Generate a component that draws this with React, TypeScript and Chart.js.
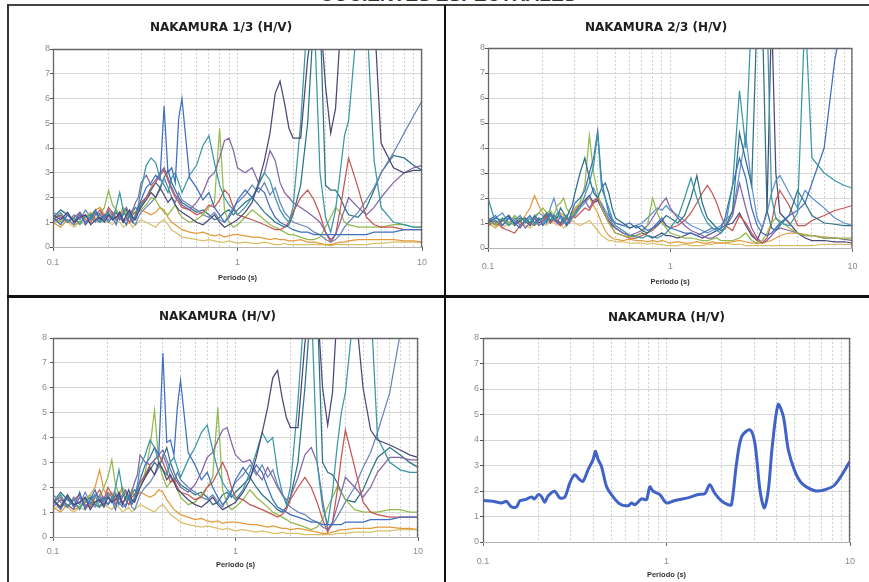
import React, { useEffect, useRef } from 'react';
import { Chart, registerables } from 'chart.js';

Chart.register(...registerables);

// ---------- shared axes ----------
const PERIODS = [
  0.10, 0.11, 0.12, 0.13, 0.14, 0.15, 0.16, 0.17, 0.18, 0.19,
  0.20, 0.21, 0.22, 0.23, 0.24, 0.25, 0.26, 0.27, 0.28, 0.29,
  0.30, 0.32, 0.34, 0.36, 0.38, 0.40, 0.42, 0.44, 0.46, 0.48,
  0.50, 0.55, 0.60, 0.65, 0.70, 0.75, 0.80, 0.85, 0.90, 0.95,
  1.0, 1.1, 1.2, 1.3, 1.4, 1.5, 1.6, 1.7, 1.8, 1.9,
  2.0, 2.2, 2.4, 2.6, 2.8, 3.0, 3.2, 3.4, 3.6, 3.8,
  4.0, 4.5, 5.0, 5.5, 6.0, 7.0, 8.0, 9.0, 10,
];
const X_GRID_TICKS = [0.1, 0.2, 0.3, 0.4, 0.5, 0.6, 0.7, 0.8, 0.9, 1, 2, 3, 4, 5, 6, 7, 8, 9, 10];
const X_LABELED = [0.1, 1, 10];
const X_LABEL_TEXT = ['0.1', '1', '10'];
const Y_MIN = 0;
const Y_MAX = 8;
const X_TITLE = 'Periodo (s)';
const PAGE_TITLE = 'COCIENTES ESPECTRALES';

// ---------- panel 1 : NAKAMURA 1/3 (H/V) ----------
const P1_DKPURPLE = [
  1.3, 1.1, 1.4, 1.0, 1.2, 1.3, 0.9, 1.1, 1.2, 1.0,
  1.3, 1.1, 1.2, 1.4, 1.0, 1.3, 1.5, 1.2, 1.1, 1.4,
  1.6, 1.9, 2.2, 2.0, 2.4, 2.1, 1.8, 2.0, 1.7, 1.5,
  1.4, 1.2, 1.0, 0.9, 1.1, 1.3, 1.0, 0.8, 0.9, 1.0,
  1.1, 1.4, 1.8, 2.6, 3.5, 4.6, 6.2, 6.7, 5.8, 4.8,
  4.4, 4.4, 7.6, 9.5, 9.5, 6.5, 4.6, 5.6, 8.6, 9.5,
  9.5, 9.5, 9.5, 9.5, 4.2, 3.2, 3.0, 3.1, 3.1,
];
const P1_BLUE = [
  1.2, 0.9, 1.3, 1.0, 1.4, 0.9, 1.2, 1.5, 1.1, 1.3,
  1.0, 1.2, 0.9, 1.4, 1.1, 0.9, 1.3, 1.0, 1.2, 1.6,
  1.9, 2.4, 2.6, 2.9, 2.7, 5.7, 3.0, 3.2, 2.6, 5.2,
  6.0, 2.8, 2.4, 1.9, 2.2, 1.6, 1.3, 1.0, 1.2, 1.5,
  1.9, 2.3, 2.0, 2.4, 2.2, 1.6, 1.2, 1.0, 0.9, 0.8,
  0.7, 0.6, 0.6, 0.5, 0.5, 0.5, 0.5, 0.5, 0.5, 0.5,
  0.5, 0.5, 0.5, 0.6, 0.6, 0.6, 0.7, 0.7, 0.7,
];
const P1_TEAL = [
  1.1, 1.4, 1.0, 1.2, 0.9, 1.3, 1.1, 1.4, 1.0, 1.2,
  1.4, 1.1, 1.6, 2.2, 1.5, 1.2, 1.4, 1.1, 1.3, 1.7,
  2.3, 3.3, 3.6, 3.4, 2.8, 2.5, 2.2, 2.8, 3.0, 2.6,
  2.2, 2.9, 3.3, 4.1, 4.5, 3.4, 2.5, 2.0, 1.7, 1.5,
  1.3, 1.6, 2.0, 2.5, 3.0, 2.7, 2.0, 1.5, 1.2, 1.0,
  1.6, 5.0, 9.5, 9.5, 3.0, 1.2, 0.6, 1.5, 3.0, 4.5,
  5.1, 9.5, 9.5, 3.5, 1.6, 1.0, 0.9, 0.8, 0.8,
];
const P1_PURPLE = [
  1.0, 1.2, 1.1, 0.9, 1.3, 1.0, 1.2, 1.4, 1.3, 1.1,
  1.5, 1.3, 1.1, 1.2, 1.4, 1.6, 1.3, 1.5, 1.8, 2.0,
  2.6, 2.9, 2.5, 2.7, 3.0, 3.2, 2.8, 2.4, 2.1, 1.9,
  1.7, 1.5, 1.8, 2.2, 2.8, 3.0, 3.6, 4.3, 4.4, 3.9,
  3.2, 3.0, 3.2, 2.6, 3.0, 3.9, 3.5, 2.6, 2.2, 2.0,
  1.8, 1.6, 1.4, 1.2, 1.0, 0.6, 0.3, 0.5, 1.0, 1.5,
  2.0, 1.6, 1.3, 1.6, 2.0, 2.6, 3.0, 3.2, 3.3,
];
const P1_RED = [
  1.1, 1.3, 1.0, 1.2, 1.4, 1.1, 1.0, 1.3, 1.5, 1.2,
  1.6, 1.4, 1.2, 1.3, 1.1, 1.2, 1.0, 1.3, 1.4, 1.6,
  1.8, 2.0, 2.4, 2.6, 2.9, 3.1, 2.7, 2.3, 2.0, 1.8,
  1.6, 1.5, 1.3, 1.4, 1.7, 1.6, 1.9, 2.3, 2.1, 1.6,
  1.3, 1.2, 1.1, 1.0, 0.9, 0.8, 0.7, 0.7, 0.8, 1.0,
  1.4, 2.0, 2.3, 1.9, 1.3, 0.6, 0.2, 0.5, 1.5, 2.6,
  3.6, 2.4, 1.2, 0.9, 0.8, 0.8, 0.7, 0.7, 0.7,
];
const P1_GREEN = [
  1.2, 1.0, 1.3, 1.1, 1.0, 1.2, 1.4, 1.1, 1.3, 1.6,
  2.3, 1.7, 1.5, 1.3, 1.6, 1.4, 1.2, 1.5, 1.3, 1.4,
  1.5, 1.7, 2.0, 1.9, 1.6, 1.4, 1.3, 1.5, 1.7, 1.4,
  1.2, 1.0, 1.1, 1.3, 1.6, 1.8, 4.8, 1.5, 1.0, 0.8,
  0.9, 1.2, 1.5, 1.3, 1.1, 0.9, 0.8, 0.7, 0.6, 0.5,
  0.5, 0.4, 0.3, 0.3, 0.4, 0.8, 1.2, 1.6, 1.4, 1.0,
  0.9, 0.8, 0.8, 0.8, 0.8, 0.9, 0.9, 0.8, 0.8,
];
const P1_ORANGE = [
  1.0, 0.8, 1.1, 0.9, 1.0, 1.2, 1.3, 1.5, 1.6, 1.3,
  1.2, 1.4, 1.1, 1.3, 1.5, 1.2, 1.0, 1.1, 1.3, 1.4,
  1.5, 1.4, 1.3, 1.4, 1.6, 1.5, 1.2, 1.0, 0.9, 0.8,
  0.7, 0.6, 0.55, 0.6, 0.5, 0.45, 0.5, 0.4, 0.45, 0.5,
  0.5, 0.45, 0.4, 0.4, 0.35, 0.3, 0.35, 0.3, 0.3, 0.25,
  0.25, 0.3, 0.2, 0.2, 0.15, 0.1, 0.1, 0.15, 0.2, 0.2,
  0.25, 0.3, 0.3, 0.3, 0.3, 0.3, 0.25, 0.25, 0.2,
];
const P1_TAN = [
  0.9, 1.1, 1.0, 0.8, 1.0, 0.9, 1.1, 1.2, 1.0, 1.1,
  1.0, 0.9, 1.1, 1.0, 0.8, 0.9, 1.0, 0.8, 0.9, 1.0,
  1.1, 1.0, 0.9, 0.8, 1.0, 1.1, 0.9, 0.7, 0.6, 0.5,
  0.4, 0.35, 0.3, 0.25, 0.3, 0.25, 0.2, 0.2, 0.25, 0.2,
  0.15, 0.2, 0.15, 0.15, 0.2, 0.15, 0.1, 0.1, 0.15, 0.1,
  0.1, 0.1, 0.1, 0.1, 0.1, 0.1, 0.05, 0.1, 0.1, 0.1,
  0.1, 0.1, 0.1, 0.15, 0.15, 0.2, 0.2, 0.2, 0.2,
];
const P1_SLATE = [
  1.4, 1.2, 1.0, 1.3, 1.1, 1.5, 1.2, 1.0, 1.4, 1.2,
  1.1, 1.3, 1.5, 1.2, 1.0, 1.1, 1.3, 1.0, 0.9, 1.2,
  1.4, 1.6, 1.8, 2.0, 2.3, 2.8, 2.4, 2.0, 1.8, 2.2,
  1.9, 1.7, 1.5, 1.3, 1.2, 1.4, 1.1, 1.0, 1.3, 1.6,
  1.8, 2.1, 2.5, 2.2, 2.6, 2.1, 2.4, 1.8, 1.4, 1.2,
  1.0, 0.9, 0.8, 0.6, 0.5, 0.3, 0.2, 0.3, 0.5, 0.8,
  1.0, 1.4, 1.9, 2.4, 3.0, 3.8, 4.6, 5.3, 5.9,
];
const P1_DKTEAL = [
  1.2, 1.5, 1.3, 1.1, 1.0, 1.2, 1.3, 1.1, 1.0, 1.2,
  1.3, 1.2, 1.4, 1.1, 1.3, 1.5, 1.2, 1.4, 1.6, 1.5,
  1.7, 2.0, 2.3, 2.6, 2.4, 2.8, 3.1, 2.6, 2.3, 2.0,
  1.8, 1.6, 1.4, 1.5, 1.3, 1.1, 1.2, 1.4, 1.5, 1.3,
  1.5, 1.8, 2.0, 1.7, 1.4, 1.2, 1.0, 0.9, 0.8, 0.9,
  1.3, 2.5, 5.0, 9.5, 9.5, 2.5, 2.3, 2.3, 2.0, 1.6,
  1.3, 1.2, 1.6, 2.3, 3.0, 3.7, 3.6, 3.3, 3.1,
];

// ---------- panel 2 : NAKAMURA 2/3 (H/V) ----------
const P2_TEAL = [
  2.0, 1.0, 1.2, 0.9, 1.1, 1.3, 1.0, 1.2, 0.9, 1.1,
  1.2, 1.0, 1.3, 1.1, 1.4, 1.2, 1.0, 1.3, 1.1, 1.2,
  1.3, 1.6, 2.1, 2.6, 3.3, 4.6, 2.4, 2.0, 1.6, 1.2,
  0.9, 0.7, 0.5, 0.45, 0.4, 0.5, 0.45, 0.4, 0.5, 0.6,
  0.8, 1.2, 2.0, 2.8, 2.0, 1.4, 1.0, 0.8, 0.7, 0.6,
  0.8, 2.5, 6.3, 4.0, 9.5, 9.5, 9.5, 9.5, 2.0, 1.2,
  1.0, 0.9, 1.4, 9.5, 3.6, 3.0, 2.7, 2.5, 2.4,
];
const P2_BLUE = [
  1.1, 1.3, 0.9, 1.2, 1.0, 0.8, 1.1, 1.3, 1.0, 1.2,
  0.9, 1.1, 1.4, 1.2, 1.0, 1.3, 1.1, 0.9, 1.2, 1.5,
  1.8, 2.0, 2.3, 3.0, 3.6, 4.7, 2.7, 2.0, 1.4, 1.1,
  1.0, 0.9, 1.0, 0.8, 0.9, 0.7, 0.8, 1.0, 1.2, 0.9,
  0.8, 0.7, 0.6, 0.6, 0.5, 0.6, 0.7, 0.8, 0.7, 0.8,
  1.2, 2.5, 3.6, 2.8, 1.6, 0.9, 0.6, 0.5, 0.6, 0.8,
  1.0, 1.3, 1.5, 1.8, 2.6, 4.0, 7.5, 9.5, 9.5,
];
const P2_DKTEAL = [
  1.0, 1.2, 1.1, 1.3, 0.9, 1.1, 1.2, 1.0, 1.3, 1.1,
  1.2, 1.4, 1.1, 1.3, 1.2, 1.6, 1.4, 1.2, 1.5, 1.7,
  2.2, 3.0, 3.6, 2.8, 2.2, 2.0, 2.4, 2.6, 2.2, 1.6,
  1.2, 1.0, 0.8, 0.9, 0.7, 0.6, 0.8, 0.9, 1.1, 1.3,
  1.2, 1.0, 1.3, 2.0, 2.9, 1.8, 1.2, 1.0, 0.8, 0.7,
  0.8, 1.5, 4.6, 3.5, 2.5, 9.5, 9.5, 1.5, 0.8, 0.7,
  0.9, 1.3, 2.3, 1.8, 1.3, 1.0, 0.95, 0.9, 0.9,
];
const P2_GREEN = [
  1.1, 0.9, 1.2, 1.0, 1.3, 1.1, 1.2, 1.0, 1.3, 1.4,
  1.6, 1.4, 1.5, 1.3, 1.7, 1.8, 2.0, 1.6, 1.4, 1.3,
  1.5, 1.8, 2.5, 4.5, 3.0, 2.2, 1.6, 1.3, 1.0, 0.8,
  0.6, 0.5, 0.45, 0.5, 0.6, 0.9, 2.0, 1.4, 1.0, 0.8,
  0.6, 0.5, 0.4, 0.4, 0.35, 0.3, 0.3, 0.35, 0.4, 0.3,
  0.3, 0.3, 0.4, 0.6, 0.3, 0.2, 0.3, 0.6, 1.0, 1.2,
  1.1, 0.8, 0.6, 0.5, 0.5, 0.4, 0.4, 0.4, 0.4,
];
const P2_ORANGE = [
  1.0, 0.8, 1.1, 0.9, 1.2, 1.0, 1.3, 1.6, 2.1, 1.7,
  1.4, 1.2, 1.3, 1.1, 1.2, 1.4, 1.3, 1.1, 1.2, 1.4,
  1.6, 1.8, 1.9, 2.0, 1.7, 1.4, 1.0, 0.7, 0.5, 0.4,
  0.35, 0.3, 0.35, 0.3, 0.3, 0.25, 0.3, 0.25, 0.3, 0.25,
  0.2, 0.25, 0.2, 0.2, 0.25, 0.2, 0.2, 0.25, 0.2, 0.2,
  0.2, 0.25, 0.3, 0.25, 0.2, 0.2, 0.2, 0.25, 0.3, 0.4,
  0.5, 0.6, 0.6, 0.55, 0.5, 0.45, 0.4, 0.35, 0.3,
];
const P2_RED = [
  0.9, 1.1, 0.8, 0.7, 0.6, 0.9, 1.1, 1.0, 0.9, 1.2,
  1.1, 1.3, 1.0, 1.2, 1.1, 0.9, 1.0, 1.2, 1.1, 1.3,
  1.2, 1.4, 1.6, 1.5, 1.8, 2.0, 1.6, 1.3, 1.0, 0.8,
  0.6, 0.5, 0.4, 0.4, 0.5, 0.6, 0.7, 0.9, 1.1, 0.9,
  0.8, 0.9, 1.1, 1.4, 1.8, 2.2, 2.5, 2.2, 1.8, 1.3,
  0.9, 0.7, 1.3, 1.0, 0.6, 0.3, 0.2, 0.4, 1.0, 1.9,
  2.3, 1.7, 0.9, 0.9, 1.1, 1.3, 1.5, 1.6, 1.7,
];
const P2_PURPLE = [
  1.0, 1.1, 0.9, 1.2, 1.0, 1.1, 0.8, 1.0, 1.2, 0.9,
  1.0, 1.2, 1.4, 1.1, 1.0, 0.9, 1.1, 1.3, 1.0, 1.2,
  1.4, 1.7, 1.9, 1.6, 1.9, 2.0, 1.7, 1.4, 1.2, 1.0,
  0.8, 0.6, 0.5, 0.6, 0.7, 0.9, 1.2, 1.5, 1.8, 2.0,
  1.6, 1.2, 0.9, 0.7, 0.6, 0.5, 0.4, 0.4, 0.5, 0.6,
  0.8, 1.3, 2.6, 1.6, 0.8, 0.4, 0.2, 0.3, 0.5, 0.7,
  0.8, 0.7, 0.6, 0.5, 0.5, 0.4, 0.4, 0.35, 0.3,
];
const P2_TAN = [
  0.9, 1.0, 0.8, 1.0, 0.9, 1.1, 0.9, 0.8, 1.0, 0.9,
  1.0, 0.9, 1.1, 1.0, 0.9, 1.0, 0.8, 0.9, 1.0, 1.1,
  1.0, 0.9, 1.0, 1.1, 0.9, 0.7, 0.5, 0.4, 0.3, 0.3,
  0.25, 0.25, 0.2, 0.2, 0.2, 0.15, 0.2, 0.15, 0.15, 0.1,
  0.1, 0.1, 0.15, 0.1, 0.1, 0.1, 0.15, 0.15, 0.2, 0.2,
  0.2, 0.15, 0.15, 0.1, 0.1, 0.1, 0.1, 0.1, 0.1, 0.1,
  0.1, 0.1, 0.1, 0.1, 0.1, 0.15, 0.15, 0.15, 0.15,
];
const P2_LTBLUE = [
  1.1, 1.2, 1.4, 1.0, 1.2, 0.9, 1.1, 1.0, 1.2, 1.4,
  1.3, 1.1, 1.6, 2.0, 1.5, 1.3, 1.2, 1.0, 1.1, 1.3,
  1.4, 1.6, 1.8, 2.0, 2.4, 2.0, 1.8, 1.5, 1.3, 1.1,
  1.0, 0.9, 0.8, 0.9, 1.0, 1.2, 1.4, 1.6, 1.5, 1.7,
  1.5, 1.3, 1.1, 0.9, 0.8, 0.7, 0.6, 0.7, 0.8, 0.9,
  1.1, 1.4, 3.0, 4.5, 2.5, 1.2, 0.8, 1.4, 2.2, 2.7,
  2.9, 2.2, 1.6, 2.3, 2.0, 1.6, 1.2, 1.0, 0.9,
];
const P2_DKPURPLE = [
  1.2, 0.9, 1.1, 1.3, 1.0, 1.2, 1.1, 0.9, 1.2, 1.0,
  1.1, 1.3, 1.0, 1.2, 1.1, 1.0, 1.2, 0.9, 1.1, 1.3,
  1.5, 1.7, 1.9, 2.1, 1.8, 1.9, 1.6, 1.3, 1.1, 0.9,
  0.8, 0.6, 0.5, 0.5, 0.6, 0.5, 0.4, 0.5, 0.6, 0.5,
  0.5, 0.4, 0.5, 0.6, 0.5, 0.4, 0.5, 0.6, 0.7, 0.8,
  0.9, 1.0, 1.4, 0.9, 0.5, 0.3, 0.8, 1.5, 9.5, 3.0,
  1.4, 1.0, 0.6, 0.4, 0.3, 0.3, 0.25, 0.25, 0.2,
];

// ---------- panel 3 : NAKAMURA (H/V) all records ----------
const P3_DKPURPLE = [
  1.5, 1.2, 1.7, 1.3, 1.4, 1.6, 1.1, 1.4, 1.5, 1.2,
  1.6, 1.4, 1.5, 1.8, 1.3, 1.6, 1.9, 1.5, 1.4, 1.7,
  2.0, 2.4, 2.8, 2.5, 3.0, 2.7, 2.3, 2.5, 2.2, 1.9,
  1.8, 1.5, 1.3, 1.2, 1.4, 1.6, 1.3, 1.1, 1.2, 1.3,
  1.4, 1.8, 2.3, 3.2, 4.2, 5.2, 6.4, 6.7, 5.6, 4.8,
  4.4, 4.4, 7.8, 9.5, 9.5, 6.0, 4.5, 5.8, 9.0, 9.5,
  9.5, 9.5, 6.0, 4.3, 3.9, 3.7, 3.5, 3.3, 3.2,
];
const P3_BLUE = [
  1.5, 1.1, 1.6, 1.2, 1.8, 1.1, 1.5, 1.9, 1.4, 1.6,
  1.3, 1.5, 1.1, 1.7, 1.4, 1.2, 1.6, 1.3, 1.5, 1.9,
  2.3, 2.9, 3.2, 3.6, 3.3, 7.4, 3.8, 3.9, 3.3, 5.2,
  6.3, 3.4, 2.9, 2.3, 2.6, 2.0, 1.6, 1.3, 1.5, 1.8,
  2.3, 2.8, 2.4, 2.9, 2.6, 2.0, 1.5, 1.2, 1.1, 1.0,
  0.9, 0.8, 0.7, 0.6, 0.6, 0.5, 0.5, 0.5, 0.5, 0.5,
  0.6, 0.6, 0.6, 0.7, 0.7, 0.7, 0.8, 0.8, 0.8,
];
const P3_TEAL = [
  1.3, 1.7, 1.2, 1.5, 1.1, 1.6, 1.3, 1.7, 1.2, 1.5,
  1.7, 1.4, 2.0, 2.7, 1.9, 1.5, 1.7, 1.4, 1.6, 2.1,
  2.8, 3.3, 3.9, 3.6, 3.0, 2.7, 2.5, 3.0, 3.2, 2.8,
  2.4, 3.1, 3.6, 4.2, 4.5, 3.5, 2.7, 2.2, 1.9, 1.7,
  1.5, 1.9, 2.6, 3.4, 4.2, 3.8, 4.0, 2.6, 1.8, 1.3,
  2.0, 5.5, 9.5, 9.5, 3.0, 1.2, 0.5, 1.8, 3.6, 5.0,
  5.8, 9.5, 9.5, 9.5, 4.0, 3.0, 2.7, 2.6, 2.6,
];
const P3_PURPLE = [
  1.2, 1.5, 1.3, 1.1, 1.6, 1.2, 1.5, 1.7, 1.6, 1.3,
  1.8, 1.6, 1.3, 1.5, 1.7, 1.9, 1.6, 1.8, 2.2, 2.5,
  3.3, 3.0, 2.9, 3.1, 3.3, 3.5, 3.1, 2.7, 2.4, 2.2,
  2.0, 1.8, 2.1, 2.6, 3.2, 3.4, 3.9, 4.3, 4.4, 3.8,
  3.3, 3.0, 3.1, 2.6, 2.3, 2.8, 2.4, 2.0, 1.7, 1.5,
  1.6, 2.4, 3.3, 3.6, 3.0, 1.5, 0.3, 0.6, 1.2, 1.8,
  2.4, 2.0, 1.6, 2.0, 2.6, 3.2, 3.2, 3.1, 3.1,
];
const P3_RED = [
  1.4, 1.6, 1.2, 1.5, 1.7, 1.3, 1.2, 1.6, 1.9, 1.5,
  2.0, 1.7, 1.5, 1.6, 1.4, 1.5, 1.3, 1.6, 1.7, 2.0,
  2.2, 2.5, 2.9, 3.1, 3.3, 3.0, 2.6, 2.2, 2.3, 2.0,
  1.8, 1.7, 1.5, 1.6, 2.0, 2.2, 2.6, 3.0, 2.6, 2.0,
  1.6, 1.5, 1.3, 1.2, 1.1, 1.0, 0.9, 0.8, 0.9, 1.1,
  1.5, 2.0, 2.4, 2.0, 1.4, 0.7, 0.2, 0.6, 1.8, 3.2,
  4.3, 2.8, 1.4, 1.0, 0.9, 0.8, 0.8, 0.8, 0.8,
];
const P3_GREEN = [
  1.5, 1.2, 1.6, 1.3, 1.2, 1.5, 1.7, 1.4, 1.6, 2.0,
  2.4, 3.1, 2.1, 1.7, 2.0, 1.8, 1.5, 1.9, 1.6, 1.8,
  2.0, 2.6, 3.6, 5.1, 3.0, 2.4, 2.0, 2.2, 2.4, 1.9,
  1.6, 1.3, 1.4, 1.7, 2.0, 2.4, 5.2, 1.9, 1.3, 1.1,
  1.2, 1.5, 1.9, 1.6, 1.4, 1.2, 1.0, 0.9, 0.8, 0.7,
  0.6, 0.5, 0.4, 0.3, 0.4, 0.7, 1.2, 1.6, 2.0, 1.8,
  1.5, 1.1, 1.0, 1.0, 1.0, 1.1, 1.1, 1.0, 1.0,
];
const P3_ORANGE = [
  1.2, 1.0, 1.3, 1.1, 1.2, 1.5, 1.7, 2.0, 2.7, 1.9,
  1.6, 1.8, 1.4, 1.6, 1.9, 1.5, 1.3, 1.4, 1.6, 1.7,
  1.8, 1.7, 1.6, 1.7, 1.9, 1.8, 1.5, 1.3, 1.1, 1.0,
  0.9, 0.8, 0.7, 0.75, 0.65, 0.6, 0.65, 0.55, 0.6, 0.6,
  0.6, 0.55, 0.5, 0.5, 0.45, 0.4, 0.45, 0.4, 0.35, 0.35,
  0.3, 0.35, 0.3, 0.25, 0.2, 0.15, 0.15, 0.2, 0.25, 0.3,
  0.3, 0.35, 0.35, 0.35, 0.4, 0.4, 0.35, 0.35, 0.3,
];
const P3_TAN = [
  1.1, 1.3, 1.2, 1.0, 1.2, 1.1, 1.3, 1.4, 1.2, 1.3,
  1.2, 1.1, 1.3, 1.2, 1.0, 1.1, 1.2, 1.0, 1.1, 1.2,
  1.3, 1.2, 1.1, 1.0, 1.2, 1.3, 1.1, 0.9, 0.8, 0.7,
  0.6, 0.5, 0.45, 0.4, 0.45, 0.4, 0.35, 0.3, 0.35, 0.3,
  0.25, 0.3, 0.25, 0.2, 0.25, 0.2, 0.15, 0.15, 0.2, 0.15,
  0.15, 0.15, 0.1, 0.1, 0.1, 0.1, 0.1, 0.1, 0.15, 0.15,
  0.15, 0.2, 0.2, 0.2, 0.25, 0.25, 0.3, 0.3, 0.3,
];
const P3_SLATE = [
  1.7, 1.4, 1.2, 1.6, 1.3, 1.8, 1.4, 1.2, 1.7, 1.4,
  1.3, 1.6, 1.8, 1.4, 1.2, 1.3, 1.6, 1.2, 1.1, 1.4,
  1.7, 2.0, 2.2, 2.5, 2.8, 3.3, 2.9, 2.4, 2.2, 2.6,
  2.3, 2.0, 1.8, 1.6, 1.5, 1.7, 1.4, 1.2, 1.6, 1.9,
  2.2, 2.5, 2.9, 2.5, 2.9, 2.4, 2.7, 2.1, 1.7, 1.4,
  1.2, 1.0, 0.9, 0.7, 0.6, 0.4, 0.3, 0.5, 0.8, 1.1,
  1.4, 2.0, 2.8, 3.4, 4.2, 5.8, 8.2, 9.5, 9.5,
];
const P3_DKTEAL = [
  1.4, 1.8, 1.5, 1.3, 1.2, 1.4, 1.6, 1.3, 1.2, 1.5,
  1.6, 1.4, 1.7, 1.3, 1.6, 1.8, 1.5, 1.7, 1.9, 1.8,
  2.0, 2.4, 2.7, 3.0, 2.8, 3.2, 3.6, 3.0, 2.6, 2.3,
  2.1, 1.9, 1.7, 1.8, 1.6, 1.3, 1.4, 1.7, 1.8, 1.6,
  1.8, 2.1, 2.4, 2.0, 1.7, 1.5, 1.3, 1.1, 1.0, 1.2,
  1.6, 3.0, 6.0, 9.5, 9.5, 3.0, 2.6, 2.5, 2.2, 1.8,
  1.5, 1.4, 1.9, 2.6, 3.2, 3.6, 3.3, 3.0, 2.8,
];

// ---------- panel 4 : NAKAMURA (H/V) mean ----------
const AVG_PERIODS = [
  0.100, 0.113, 0.126, 0.134, 0.138, 0.143, 0.152, 0.159, 0.169, 0.184,
  0.191, 0.200, 0.208, 0.217, 0.226, 0.246, 0.262, 0.279, 0.297, 0.316,
  0.337, 0.351, 0.374, 0.398, 0.410, 0.424, 0.442, 0.471, 0.501, 0.557,
  0.618, 0.645, 0.672, 0.731, 0.778, 0.811, 0.846, 0.920, 1.00, 1.11,
  1.31, 1.49, 1.62, 1.72, 1.83, 2.00, 2.17, 2.26, 2.41, 2.57,
  2.85, 3.03, 3.23, 3.41, 3.59, 3.77, 4.06, 4.33, 4.61, 5.01,
  5.45, 6.44, 7.30, 8.28, 10.0,
];
const AVG_HV = [
  1.63, 1.60, 1.53, 1.60, 1.50, 1.38, 1.37, 1.62, 1.66, 1.76,
  1.69, 1.86, 1.79, 1.56, 1.80, 1.99, 1.73, 1.76, 2.31, 2.64,
  2.44, 2.38, 2.84, 3.23, 3.56, 3.23, 2.97, 2.18, 1.86, 1.49,
  1.42, 1.53, 1.46, 1.69, 1.66, 2.16, 1.99, 1.86, 1.53, 1.63,
  1.73, 1.86, 1.90, 2.25, 1.92, 1.60, 1.46, 1.46, 3.10, 4.14,
  4.40, 3.88, 2.05, 1.33, 2.05, 3.75, 5.39, 4.93, 3.62, 2.77,
  2.31, 2.01, 2.05, 2.25, 3.16,
];

// ---------- colours ----------
const C = {
  dkpurple: '#4b4777',
  blue: '#3f6fbf',
  teal: '#3a98a6',
  purple: '#8466a6',
  red: '#c65652',
  green: '#94b94f',
  orange: '#e49a3c',
  tan: '#d9c06c',
  slate: '#6a86b8',
  dkteal: '#2e7385',
  ltblue: '#5f95d0',
  mean: '#3f63c6',
};

type Series = { data: number[]; color: string; width: number };
type PanelSpec = {
  title: string; titleFull: boolean;
  left: number; top: number; width: number; height: number;
  padLeft: number; padRight: number; yAxisWidth: number; yLabelPad: number;
  titleTop: number; titleBottom: number;
  xAxisHeight: number; xLabelPad: number; xTitleBottom: number;
  periods: number[]; series: Series[]; tension: number;
};

const W = 1.25;
const PANELS: PanelSpec[] = [
  {
    title: 'NAKAMURA 1/3 (H/V)', titleFull: true, left: 10, top: 7, width: 433, height: 287,
    padLeft: 10, padRight: 21, yAxisWidth: 33, yLabelPad: 0,
    titleTop: 13.8, titleBottom: 13.8, xAxisHeight: 47, xLabelPad: 6.6, xTitleBottom: 11.5,
    periods: PERIODS, tension: 0,
    series: [
      { data: P1_DKPURPLE, color: C.dkpurple, width: W },
      { data: P1_BLUE, color: C.blue, width: W },
      { data: P1_TEAL, color: C.teal, width: W },
      { data: P1_PURPLE, color: C.purple, width: W },
      { data: P1_RED, color: C.red, width: W },
      { data: P1_GREEN, color: C.green, width: W },
      { data: P1_SLATE, color: C.slate, width: W },
      { data: P1_DKTEAL, color: C.dkteal, width: W },
      { data: P1_ORANGE, color: C.orange, width: W },
      { data: P1_TAN, color: C.tan, width: W },
    ],
  },
  {
    title: 'NAKAMURA 2/3 (H/V)', titleFull: true, left: 447, top: 7, width: 420, height: 287,
    padLeft: 12, padRight: 14, yAxisWidth: 29, yLabelPad: 0,
    titleTop: 13.8, titleBottom: 12.8, xAxisHeight: 46, xLabelPad: 9.6, xTitleBottom: 7.5,
    periods: PERIODS, tension: 0,
    series: [
      { data: P2_TEAL, color: C.teal, width: W },
      { data: P2_BLUE, color: C.blue, width: W },
      { data: P2_DKTEAL, color: C.dkteal, width: W },
      { data: P2_GREEN, color: C.green, width: W },
      { data: P2_RED, color: C.red, width: W },
      { data: P2_PURPLE, color: C.purple, width: W },
      { data: P2_LTBLUE, color: C.ltblue, width: W },
      { data: P2_DKPURPLE, color: C.dkpurple, width: W },
      { data: P2_ORANGE, color: C.orange, width: W },
      { data: P2_TAN, color: C.tan, width: W },
    ],
  },
  {
    title: 'NAKAMURA (H/V)', titleFull: true, left: 10, top: 298, width: 433, height: 284,
    padLeft: 7, padRight: 25, yAxisWidth: 36, yLabelPad: 3,
    titleTop: 11.8, titleBottom: 13.8, xAxisHeight: 45, xLabelPad: 5.6, xTitleBottom: 12.5,
    periods: PERIODS, tension: 0,
    series: [
      { data: P3_DKPURPLE, color: C.dkpurple, width: W },
      { data: P3_BLUE, color: C.blue, width: W },
      { data: P3_TEAL, color: C.teal, width: W },
      { data: P3_PURPLE, color: C.purple, width: W },
      { data: P3_RED, color: C.red, width: W },
      { data: P3_GREEN, color: C.green, width: W },
      { data: P3_SLATE, color: C.slate, width: W },
      { data: P3_DKTEAL, color: C.dkteal, width: W },
      { data: P3_ORANGE, color: C.orange, width: W },
      { data: P3_TAN, color: C.tan, width: W },
    ],
  },
  {
    title: 'NAKAMURA (H/V)', titleFull: false, left: 447, top: 298, width: 420, height: 284,
    padLeft: 0, padRight: 17, yAxisWidth: 36, yLabelPad: 1,
    titleTop: 12.8, titleBottom: 12.8, xAxisHeight: 40, xLabelPad: 10.6, xTitleBottom: 2.5,
    periods: AVG_PERIODS, tension: 0.3,
    series: [{ data: AVG_HV, color: C.mean, width: 3 }],
  },
];

const near = (a: number, b: number) => Math.abs(a - b) < 1e-9;

const framePlugin = {
  id: 'frame',
  afterDatasetsDraw(chart: any) {
    const { ctx, chartArea: a } = chart;
    ctx.save();
    ctx.lineWidth = 1;
    ctx.strokeStyle = '#b5b5b5';
    ctx.beginPath();
    ctx.moveTo(a.left, a.bottom + 0.5);
    ctx.lineTo(a.right, a.bottom + 0.5);
    ctx.stroke();
    ctx.lineWidth = 1.3;
    ctx.strokeStyle = '#666';
    ctx.beginPath();
    ctx.moveTo(a.left + 0.5, a.bottom);
    ctx.lineTo(a.left + 0.5, a.top + 0.5);
    ctx.lineTo(a.right - 0.5, a.top + 0.5);
    ctx.lineTo(a.right - 0.5, a.bottom);
    ctx.stroke();
    ctx.restore();
  },
};

function Panel({ spec }: { spec: PanelSpec }) {
  const ref = useRef<HTMLCanvasElement>(null);
  useEffect(() => {
    const canvas = ref.current;
    if (!canvas) return;
    const chart = new Chart(canvas, {
      type: 'line',
      data: {
        datasets: spec.series.map((s) => ({
          data: spec.periods.map((p, i) => ({ x: p, y: s.data[i] })),
          borderColor: s.color,
          borderWidth: s.width,
          pointRadius: 0,
          fill: false,
          tension: spec.tension,
        })),
      },
      options: {
        animation: false,
        responsive: false,
        maintainAspectRatio: false,
        devicePixelRatio: 1,
        events: [],
        layout: { padding: { left: spec.padLeft, right: spec.padRight, top: 0, bottom: 0 } },
        plugins: {
          legend: { display: false },
          tooltip: { enabled: false },
          title: {
            display: true,
            fullSize: spec.titleFull,
            text: spec.title,
            color: '#1e1e1e',
            font: { family: 'DejaVu Sans', size: 12, weight: 'bold', lineHeight: 1.2 },
            padding: { top: spec.titleTop, bottom: spec.titleBottom },
          },
        },
        scales: {
          x: {
            type: 'logarithmic',
            min: 0.1,
            max: 10,
            afterBuildTicks: (scale: any) => {
              scale.ticks = X_GRID_TICKS.map((v) => ({ value: v }));
            },
            afterFit: (scale: any) => {
              scale.height = spec.xAxisHeight;
            },
            ticks: {
              autoSkip: false,
              maxRotation: 0,
              minRotation: 0,
              padding: spec.xLabelPad,
              color: '#8c8c8c',
              font: { family: 'Liberation Sans', size: 9 },
              callback: (v: any) => {
                const k = X_LABELED.findIndex((t) => near(t, Number(v)));
                return k >= 0 ? X_LABEL_TEXT[k] : '';
              },
            },
            grid: {
              color: '#d0d0d0',
              lineWidth: 1,
              tickLength: 4,
              tickColor: (ctx: any) =>
                ctx.tick && X_LABELED.some((t) => near(t, ctx.tick.value)) ? '#666' : 'rgba(0,0,0,0)',
            },
            border: { display: false, dash: [2, 2] },
            title: {
              display: true,
              text: X_TITLE,
              color: '#333',
              font: { family: 'Liberation Sans', size: 7.5, weight: 'bold', lineHeight: 1.2 },
              padding: { top: 0, bottom: spec.xTitleBottom },
            },
          },
          y: {
            min: Y_MIN,
            max: Y_MAX,
            afterFit: (scale: any) => {
              scale.width = spec.yAxisWidth;
            },
            ticks: {
              stepSize: 1,
              padding: spec.yLabelPad,
              color: '#8c8c8c',
              font: { family: 'Liberation Sans', size: 9 },
            },
            grid: { color: '#d6d6d6', lineWidth: 1, tickLength: 3, tickColor: '#555' },
            border: { display: false },
          },
        },
      },
      plugins: [framePlugin],
    } as any);
    return () => chart.destroy();
  }, [spec]);
  return (
    <canvas
      ref={ref}
      width={spec.width}
      height={spec.height}
      style={{ position: 'absolute', left: spec.left, top: spec.top, width: spec.width, height: spec.height }}
    />
  );
}

export default function App() {
  return (
    <div
      style={{
        position: 'absolute', left: 0, top: 0, width: 869, height: 582,
        background: '#fff', overflow: 'hidden', fontFamily: 'Liberation Sans, Arial, sans-serif',
      }}
    >
      <div
        style={{
          position: 'absolute', left: 300, width: 296, top: -15, height: 19,
          lineHeight: '19px', fontSize: 19, fontWeight: 'bold', color: '#333',
          textAlign: 'center', whiteSpace: 'nowrap',
        }}
      >
        {PAGE_TITLE}
      </div>
      {/* table rules */}
      <div style={{ position: 'absolute', left: 7, top: 4, width: 862, height: 2, background: '#444' }} />
      <div style={{ position: 'absolute', left: 7, top: 4, width: 2, height: 578, background: '#333' }} />
      <div style={{ position: 'absolute', left: 444, top: 5, width: 2, height: 577, background: '#111' }} />
      <div style={{ position: 'absolute', left: 7, top: 295, width: 862, height: 3, background: '#111' }} />
      {PANELS.map((p, i) => (
        <Panel key={i} spec={p} />
      ))}
    </div>
  );
}
